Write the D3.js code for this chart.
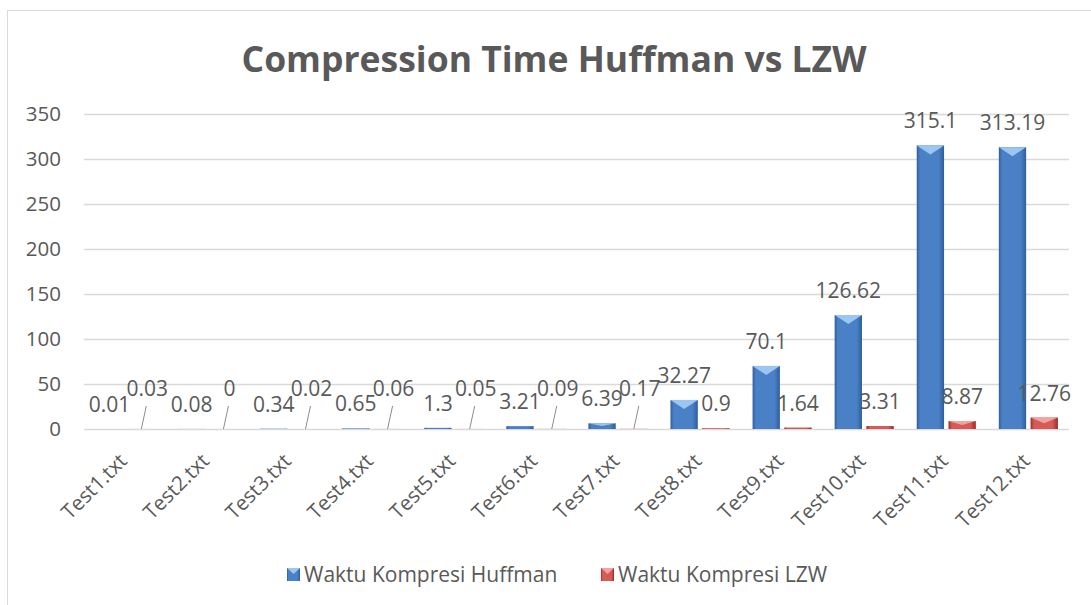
<!DOCTYPE html>
<html>
<head>
<meta charset="utf-8">
<script src="https://cdn.jsdelivr.net/npm/d3@7"></script>
<style>
  body { margin: 0; background: #fff; }
  svg { display: block; font-family: 'Open Sans', sans-serif; }
</style>
</head>
<body>
<div id="chart"></div>
<script>
'use strict';

// Data
const categories = ['Test1.txt', 'Test2.txt', 'Test3.txt', 'Test4.txt', 'Test5.txt', 'Test6.txt',
                    'Test7.txt', 'Test8.txt', 'Test9.txt', 'Test10.txt', 'Test11.txt', 'Test12.txt'];
const huffman = [0.01, 0.08, 0.34, 0.65, 1.3, 3.21, 6.39, 32.27, 70.1, 126.62, 315.1, 313.19];
const lzw = [0.03, 0, 0.02, 0.06, 0.05, 0.09, 0.17, 0.9, 1.64, 3.31, 8.87, 12.76];
const seriesNames = ['Waktu Kompresi Huffman', 'Waktu Kompresi LZW'];
const yTicks = [0, 50, 100, 150, 200, 250, 300, 350];
const title = 'Compression Time Huffman vs LZW';

const W = 1091, H = 605;
const textColor = '#595959';
const gridColor = '#d9d9d9';

const svg = d3.select('#chart').append('svg')
  .attr('width', W)
  .attr('height', H);

// gradients for the bevelled bars
const defs = svg.append('defs');
const palettes = [
  { id: 'gBlue', edge: '#2f5f9b', mid: '#4a80c6', tip: '#9cc6f2' },
  { id: 'gRed', edge: '#9b2b29', mid: '#d65a56', tip: '#f2a2a0' }
];
palettes.forEach((p) => {
  const g = defs.append('linearGradient').attr('id', p.id)
    .attr('x1', 0).attr('x2', 1).attr('y1', 0).attr('y2', 0);
  g.append('stop').attr('offset', '0%').attr('stop-color', p.edge);
  g.append('stop').attr('offset', '12%').attr('stop-color', p.mid);
  g.append('stop').attr('offset', '80%').attr('stop-color', p.mid);
  g.append('stop').attr('offset', '100%').attr('stop-color', p.edge);
});

// chart frame
svg.append('rect')
  .attr('x', 7.5).attr('y', 10.5)
  .attr('width', 1200).attr('height', 700)
  .attr('fill', '#fff')
  .attr('stroke', gridColor);

// title
svg.append('text')
  .attr('x', 554).attr('y', 72)
  .attr('text-anchor', 'middle')
  .attr('font-size', 35.5)
  .attr('font-weight', 'bold')
  .attr('fill', textColor)
  .text(title);

// scales
const plot = { left: 84, right: 1069, top: 114, bottom: 429 };

const x0 = d3.scaleBand()
  .domain(categories)
  .range([plot.left, plot.right])
  .padding(0);

const x1 = d3.scaleBand()
  .domain(seriesNames)
  .range([x0.bandwidth() * 0.145, x0.bandwidth() * 0.865])
  .paddingInner(0.14);

const y = d3.scaleLinear()
  .domain([0, 350])
  .range([plot.bottom, plot.top]);

// gridlines + y labels
const yAxis = svg.append('g')
  .attr('transform', 'translate(' + plot.left + ',0)')
  .call(d3.axisLeft(y).tickValues(yTicks).tickSize(-(plot.right - plot.left)).tickPadding(23));
yAxis.select('.domain').remove();
yAxis.selectAll('.tick line').attr('stroke', gridColor).attr('stroke-width', 1.3);
yAxis.selectAll('.tick text')
  .attr('fill', textColor)
  .attr('font-size', 20.5)
  .attr('font-family', "'Open Sans', sans-serif");

// x labels
const xAxis = svg.append('g')
  .attr('transform', 'translate(0,' + plot.bottom + ')')
  .call(d3.axisBottom(x0).tickSize(0));
xAxis.select('.domain').remove();
xAxis.selectAll('.tick text')
  .attr('fill', textColor)
  .attr('font-size', 20.5)
  .attr('font-family', "'Open Sans', sans-serif")
  .attr('text-anchor', 'end')
  .attr('dy', '0.35em')
  .attr('transform', 'translate(-4,26) rotate(-45)');

// bars
const rows = categories.map((c, i) => ({ cat: c, values: [huffman[i], lzw[i]] }));

const groups = svg.selectAll('.grp')
  .data(rows)
  .enter().append('g')
  .attr('class', 'grp')
  .attr('transform', (d) => 'translate(' + x0(d.cat) + ',0)');

const bars = groups.selectAll('.bar')
  .data((d) => d.values.map((v, k) => ({ v: v, k: k })))
  .enter().append('g')
  .attr('class', 'bar');

bars.append('rect')
  .attr('x', (d) => x1(seriesNames[d.k]))
  .attr('y', (d) => y(d.v))
  .attr('width', x1.bandwidth())
  .attr('height', (d) => plot.bottom - y(d.v))
  .attr('fill', (d) => 'url(#' + palettes[d.k].id + ')');

// bevel tip at the top of each bar
bars.filter((d) => plot.bottom - y(d.v) > 4)
  .append('path')
  .attr('d', (d) => {
    const bx = x1(seriesNames[d.k]);
    const bw = x1.bandwidth();
    const top = y(d.v);
    const h = Math.min(9, (plot.bottom - top) * 0.5);
    return 'M' + bx + ',' + top + 'L' + (bx + bw) + ',' + top +
           'L' + (bx + bw * 0.5) + ',' + (top + h) + 'Z';
  })
  .attr('fill', (d) => palettes[d.k].tip);

// data labels
const labelSize = 21;
bars.each(function (d) {
  const g = d3.select(this);
  const cx = x1(seriesNames[d.k]) + x1.bandwidth() / 2;
  if (d.k === 1 && d.v < 0.5) {
    // small values: label lifted with a leader line
    g.append('line')
      .attr('x1', cx).attr('y1', y(d.v))
      .attr('x2', cx + 5).attr('y2', y(d.v) - 23)
      .attr('stroke', '#8c8c8c').attr('stroke-width', 1);
    g.append('text')
      .attr('x', cx + 6).attr('y', y(d.v) - 33)
      .attr('text-anchor', 'middle')
      .attr('font-size', labelSize)
      .attr('fill', textColor)
      .text(d.v);
  } else {
    g.append('text')
      .attr('x', cx).attr('y', y(d.v) - 17)
      .attr('text-anchor', 'middle')
      .attr('font-size', labelSize)
      .attr('fill', textColor)
      .text(d.v);
  }
});

// legend
const legendX = [287, 601];
const legend = svg.selectAll('.leg')
  .data(seriesNames)
  .enter().append('g')
  .attr('class', 'leg')
  .attr('transform', (d, i) => 'translate(' + legendX[i] + ',568)');
legend.append('rect')
  .attr('width', 13).attr('height', 13)
  .attr('fill', (d, i) => 'url(#' + palettes[i].id + ')');
legend.append('path')
  .attr('d', 'M0,0L13,0L6.5,6Z')
  .attr('fill', (d, i) => palettes[i].tip);
legend.append('text')
  .attr('x', 17).attr('y', 14)
  .attr('font-size', 21)
  .attr('fill', textColor)
  .text((d) => d);
</script>
</body>
</html>
